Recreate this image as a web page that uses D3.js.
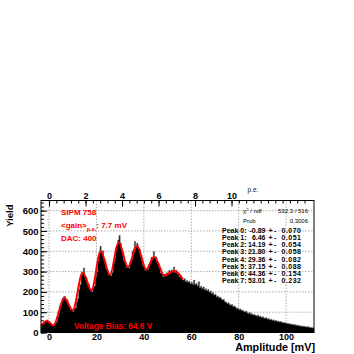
<!DOCTYPE html>
<html lang="en">
<head>
<meta charset="UTF-8" />
<script src="https://cdn.jsdelivr.net/npm/d3@7"></script>
<style>
  body { margin: 0; background: #fff; }
  text { font-family: "Liberation Sans", Arial, sans-serif; }
</style>
</head>
<body>
<svg id="chart" width="354" height="354"></svg>
<script>
// histogram: 0.5 mV bins starting at -3.5 mV
var binStart = -3.5
var binWidth = 0.5
var counts = [
  30,41,43,55,54,62,55,54,44,41,
  38,33,44,52,78,97,131,146,168,175,
  178,160,161,139,131,112,114,104,118,122,
  150,168,212,236,281,298,318,280,272,244,
  238,212,214,201,222,229,272,298,352,388,
  425,395,402,362,351,315,306,284,290,281,
  296,338,364,418,428,455,478,441,410,396,
  355,346,321,330,318,347,358,398,410,448,
  422,440,414,411,378,366,331,326,306,314,
  309,336,344,370,366,398,368,372,346,340,
  320,292,291,276,286,279,294,290,305,298,
  308,299,322,297,306,288,292,274,278,262,
  258,265,251,256,248,252,240,247,238,258,
  236,241,230,250,222,228,217,224,210,215,
  206,212,198,204,192,196,185,188,176,180,
  171,174,166,160,163,152,149,143,146,138,
  134,138,128,131,124,118,121,112,116,108,
  110,104,101,106,97,94,98,90,92,86,
  88,84,81,86,78,80,74,77,72,70,
  73,66,68,63,65,60,62,57,59,55,
  56,52,54,49,51,47,48,44,46,42,
  43,40,41,38,39,35,37,33,34,31,
  32,30,31,28,27,29,25,26,24,23,
  22
]

// fit curve read at its maxima and minima
var fitX = [-3.4, -0.89, 1.8, 6.46, 10.0, 14.19, 17.9, 21.80, 25.7, 29.36, 33.3, 37.15, 41.0, 44.36, 48.7, 53.01, 56.5]
var fitY = [33, 57, 35, 170, 110, 295, 208, 400, 284, 444, 322, 427, 310, 373, 281, 303, 262]

var peakMeans = ["-0.89", "6.46", "14.19", "21.80", "29.36", "37.15", "44.36", "53.01"]
var peakErrors = ["0.070", "0.051", "0.054", "0.058", "0.082", "0.088", "0.154", "0.232"]

var xTicks = [0, 20, 40, 60, 80, 100]
var yTicks = [0, 100, 200, 300, 400, 500, 600]
var peTicks = [0, 2, 4, 6, 8, 10]
var gain = 7.7

var padL = 41, padR = 314, padT = 200.5, padB = 332.5

var svg = d3.select("#chart")

var x = d3.scaleLinear().domain([-3.4, 111.8]).range([padL, padR])
var y = d3.scaleLinear().domain([0, 650]).range([padB, padT])
var pe = d3.scaleLinear().domain([-3.4 / gain, 111.8 / gain]).range([padL, padR])

// grid
var grid = svg.append("g").attr("stroke", "#8a8a8a").attr("stroke-width", 0.7).attr("stroke-dasharray", "1.5,1.5")
grid.selectAll(".gx").data(xTicks).enter().append("line")
  .attr("x1", d => x(d)).attr("x2", d => x(d)).attr("y1", padT).attr("y2", padB)
grid.selectAll(".gy").data(yTicks.slice(1)).enter().append("line")
  .attr("x1", padL).attr("x2", padR).attr("y1", d => y(d)).attr("y2", d => y(d))

// histogram as a step area
var pts = []
counts.forEach(function (c, i) {
  var x0 = Math.max(binStart + i * binWidth, -3.4)
  var x1 = Math.min(binStart + (i + 1) * binWidth, 111.8)
  pts.push([x0, c]); pts.push([x1, c])
})
var area = d3.area().x(d => x(d[0])).y0(y(0)).y1(d => y(d[1]))
svg.append("path").datum(pts).attr("d", area).attr("fill", "#000")
  .attr("stroke", "#666").attr("stroke-width", 0.6)

// fit
var line = d3.line().x(d => x(d[0])).y(d => y(d[1])).curve(d3.curveMonotoneX)
svg.append("path").datum(fitX.map((v, i) => [v, fitY[i]])).attr("d", line)
  .attr("fill", "none").attr("stroke", "#ff0000").attr("stroke-width", 2)

// frame
svg.append("rect").attr("x", padL).attr("y", padT).attr("width", padR - padL).attr("height", padB - padT)
  .attr("fill", "none").attr("stroke", "#000").attr("stroke-width", 1)

function styleAxis(g) {
  g.select(".domain").remove()
  g.selectAll("text").attr("font-size", 9).attr("font-weight", "bold").attr("fill", "#000")
    .style("font-family", "'Liberation Sans', Arial, sans-serif")
}

// bottom axis
svg.append("g").attr("transform", `translate(0,${padB})`)
  .call(d3.axisBottom(x).tickValues(d3.range(0, 112, 4)).tickSize(-3).tickFormat(""))
  .call(g => g.select(".domain").remove())
svg.append("g").attr("transform", `translate(0,${padB})`)
  .call(d3.axisBottom(x).tickValues(xTicks).tickSize(-6).tickPadding(0.8))
  .call(styleAxis)

// left axis
svg.append("g").attr("transform", `translate(${padL},0)`)
  .call(d3.axisLeft(y).tickValues(d3.range(0, 650, 20)).tickSize(-3).tickFormat(""))
  .call(g => g.select(".domain").remove())
svg.append("g").attr("transform", `translate(${padL},0)`)
  .call(d3.axisLeft(y).tickValues(yTicks).tickSize(-6).tickPadding(2.5))
  .call(g => { styleAxis(g); g.selectAll("text").attr("font-size", 9.5) })

// top axis in p.e.
svg.append("g").attr("transform", `translate(0,${padT})`)
  .call(d3.axisTop(pe).tickValues(d3.range(0, 14.4, 0.4).filter(v => pe(v) <= padR)).tickSize(-3).tickFormat(""))
  .call(g => g.select(".domain").remove())
svg.append("g").attr("transform", `translate(0,${padT})`)
  .call(d3.axisTop(pe).tickValues(peTicks).tickSize(-6).tickPadding(1.5))
  .call(styleAxis)

// axis titles
svg.append("text").attr("x", padR + 1).attr("y", 351.3).attr("text-anchor", "end")
  .attr("font-size", 10.8).attr("font-weight", "bold").text("Amplitude [mV]")
svg.append("text").attr("transform", `translate(13,${padT + 4}) rotate(-90)`).attr("text-anchor", "end")
  .attr("font-size", 9.5).attr("font-weight", "bold").text("Yield")
svg.append("text").attr("x", 253).attr("y", 191.5).attr("text-anchor", "middle")
  .attr("font-size", 6.5).attr("fill", "#222").text("p.e.")

// red labels
var red = svg.append("g").attr("fill", "#ff0000").attr("font-weight", "bold").attr("font-size", 8)
red.append("text").attr("x", 61).attr("y", 215).text("SIPM 758")
var g2 = red.append("text").attr("x", 61).attr("y", 228)
g2.append("tspan").text("<gain>")
g2.append("tspan").attr("font-size", 5.5).attr("dy", 2.5).text("p.e.")
g2.append("tspan").attr("dy", -2.5).text(": 7.7 mV")
red.append("text").attr("x", 61).attr("y", 240.5).text("DAC: 400")
red.append("text").attr("x", 74).attr("y", 329).attr("font-size", 8.3).text("Voltage Bias: 64.6 V")

// stat box
var st = svg.append("g").attr("fill", "#000")
var chi = st.append("text").attr("x", 243).attr("y", 213).attr("font-size", 6)
chi.append("tspan").text("\u03c7")
chi.append("tspan").attr("font-size", 4).attr("dy", -2.5).text("2")
chi.append("tspan").attr("dy", 2.5).text(" / ndf")
st.append("text").attr("x", 308).attr("y", 213).attr("font-size", 6).attr("text-anchor", "end").text("532.3 / 516")
st.append("text").attr("x", 243).attr("y", 223).attr("font-size", 6).text("Prob")
st.append("text").attr("x", 308).attr("y", 223).attr("font-size", 6).attr("text-anchor", "end").text("0.3006")

var rows = st.selectAll(".pk").data(peakMeans).enter().append("g")
  .attr("transform", (d, i) => `translate(0,${232.7 + i * 7.2})`)
  .attr("font-size", 7).attr("font-weight", "bold")
rows.append("text").attr("x", 222).text((d, i) => "Peak " + i + ":")
rows.append("text").attr("x", 265.5).attr("text-anchor", "end").text(d => d)
rows.append("text").attr("x", 268.5).attr("letter-spacing", 1.5).text("+-")
rows.append("text").attr("x", 281.5).attr("letter-spacing", 0.5).text((d, i) => peakErrors[i])
</script>
</body>
</html>
